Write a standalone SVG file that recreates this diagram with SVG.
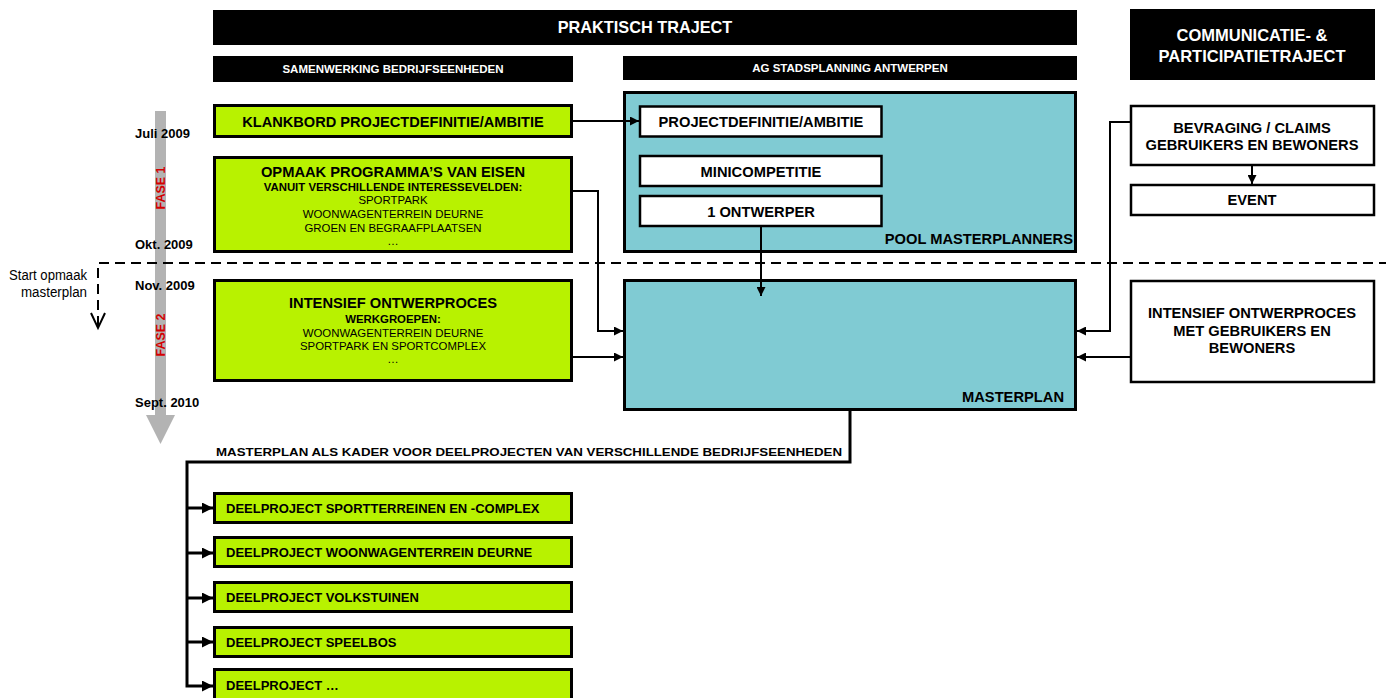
<svg xmlns="http://www.w3.org/2000/svg" width="1386" height="698" viewBox="0 0 1386 698">
<defs>
<marker id="ah" viewBox="0 0 10 10" refX="10" refY="5" markerWidth="9" markerHeight="9" markerUnits="userSpaceOnUse" orient="auto"><path d="M0,0 L10,5 L0,10 z" fill="#000"/></marker>
<marker id="ahb" viewBox="0 0 10 10" refX="10" refY="5" markerWidth="11" markerHeight="11" markerUnits="userSpaceOnUse" orient="auto"><path d="M0,0 L10,5 L0,10 z" fill="#000"/></marker>
</defs>
<style>
text{font-family:"Liberation Sans",Arial,sans-serif;}
.hdr{fill:#000;}
.ht{fill:#fff;font-weight:bold;text-anchor:middle;}
.g{fill:#B8F200;stroke:#000;stroke-width:3;}
.tl{fill:#80CBD3;stroke:#000;stroke-width:3;}
.w{fill:#fff;stroke:#000;stroke-width:2.5;}
.b{font-weight:bold;fill:#000;}
.c{text-anchor:middle;}
.n{fill:#000;}
.con{fill:none;stroke:#000;stroke-width:2;}
.conb{fill:none;stroke:#000;stroke-width:3;}
.date{font-weight:bold;font-size:13px;fill:#000;}
.fase{font-weight:bold;font-size:12.5px;fill:#D40000;text-anchor:middle;}
</style>
<rect x="0" y="0" width="1386" height="698" fill="#fff"/>

<g id="header-praktisch"><rect class="hdr" x="213" y="10" width="864" height="35"/><text class="ht" x="645" y="33" font-size="16.3">PRAKTISCH TRAJECT</text></g>
<g id="header-samenwerking"><rect class="hdr" x="213" y="56" width="360" height="26"/><text class="ht" x="393" y="73" font-size="11.5">SAMENWERKING BEDRIJFSEENHEDEN</text></g>
<g id="header-ag"><rect class="hdr" x="623" y="56" width="454" height="24"/><text class="ht" x="850" y="72" font-size="11.5">AG STADSPLANNING ANTWERPEN</text></g>
<g id="header-communicatie"><rect class="hdr" x="1130" y="9" width="245" height="71"/><text class="ht" x="1252" y="41" font-size="16.5">COMMUNICATIE- &amp;</text><text class="ht" x="1252" y="62" font-size="16.5">PARTICIPATIETRAJECT</text></g>

<g id="timeline">
<rect x="155" y="111" width="11" height="305" fill="#B3B3B3"/>
<polygon points="146,415 175,415 160.5,444" fill="#B3B3B3"/>
<text class="date" x="135" y="138">Juli 2009</text>
<text class="date" x="135" y="249">Okt. 2009</text>
<text class="date" x="135" y="290">Nov. 2009</text>
<text class="date" x="135" y="407">Sept. 2010</text>
<text class="fase" transform="translate(164.5,188) rotate(-90)">FASE 1</text>
<text class="fase" transform="translate(164.5,335) rotate(-90)">FASE 2</text>
</g>

<g id="start-masterplan">
<path d="M98,326 V263 H1386" fill="none" stroke="#000" stroke-width="2" stroke-dasharray="10,6"/>
<polyline points="91,313 98,328 105,313" fill="none" stroke="#000" stroke-width="2"/>
<text class="n" x="87" y="280" font-size="14" text-anchor="end" textLength="78" lengthAdjust="spacingAndGlyphs">Start opmaak</text>
<text class="n" x="87" y="297" font-size="14" text-anchor="end" textLength="66" lengthAdjust="spacingAndGlyphs">masterplan</text>
</g>

<g id="klankbord"><rect class="g" x="214.5" y="105.5" width="357" height="31"/><text class="b c" x="393" y="127" font-size="14.6">KLANKBORD PROJECTDEFINITIE/AMBITIE</text></g>
<g id="opmaak"><rect class="g" x="214.5" y="157.5" width="357" height="94"/>
<text class="b c" x="393" y="177" font-size="14.7">OPMAAK PROGRAMMA’S VAN EISEN</text>
<text class="b c" x="393" y="191" font-size="11.4">VANUIT VERSCHILLENDE INTERESSEVELDEN:</text>
<text class="n c" x="393" y="204" font-size="11.4">SPORTPARK</text>
<text class="n c" x="393" y="218" font-size="11.4">WOONWAGENTERREIN DEURNE</text>
<text class="n c" x="393" y="232" font-size="11.4">GROEN EN BEGRAAFPLAATSEN</text>
<text class="n c" x="393" y="245" font-size="11.4">…</text>
</g>
<g id="intensief-links"><rect class="g" x="214.5" y="280.5" width="357" height="100"/>
<text class="b c" x="393" y="308" font-size="14.7">INTENSIEF ONTWERPROCES</text>
<text class="b c" x="393" y="323" font-size="11.4">WERKGROEPEN:</text>
<text class="n c" x="393" y="337" font-size="11.4">WOONWAGENTERREIN DEURNE</text>
<text class="n c" x="393" y="350" font-size="11.4">SPORTPARK EN SPORTCOMPLEX</text>
<text class="n c" x="393" y="363" font-size="11.4">…</text>
</g>

<g id="pool"><rect class="tl" x="624.5" y="92.5" width="451" height="159"/><text class="b" x="1073" y="244" font-size="14.7" text-anchor="end">POOL MASTERPLANNERS</text></g>
<g id="projectdefinitie"><rect class="w" x="640" y="106.5" width="241.5" height="30"/><text class="b c" x="761" y="127" font-size="14.7">PROJECTDEFINITIE/AMBITIE</text></g>
<g id="minicompetitie"><rect class="w" x="640" y="156" width="241.5" height="30"/><text class="b c" x="761" y="177" font-size="14.7">MINICOMPETITIE</text></g>
<g id="ontwerper"><rect class="w" x="640" y="196" width="241.5" height="30"/><text class="b c" x="761" y="217" font-size="14.7">1 ONTWERPER</text></g>
<g id="masterplan"><rect class="tl" x="624.5" y="280.5" width="451" height="129"/><text class="b" x="1064" y="402" font-size="14.7" text-anchor="end">MASTERPLAN</text></g>

<g id="bevraging"><rect class="w" x="1131" y="106" width="243" height="59"/><text class="b c" x="1252" y="133" font-size="14.7">BEVRAGING / CLAIMS</text><text class="b c" x="1252" y="150" font-size="14.7">GEBRUIKERS EN BEWONERS</text></g>
<g id="event"><rect class="w" x="1131" y="185" width="243" height="30"/><text class="b c" x="1252" y="205" font-size="14.7">EVENT</text></g>
<g id="intensief-rechts"><rect class="w" x="1131" y="281" width="243" height="101"/><text class="b c" x="1252" y="318" font-size="14.7">INTENSIEF ONTWERPROCES</text><text class="b c" x="1252" y="336" font-size="14.7">MET GEBRUIKERS EN</text><text class="b c" x="1252" y="353" font-size="14.7">BEWONERS</text></g>

<text class="b" x="216" y="456" font-size="11.5" textLength="626" lengthAdjust="spacingAndGlyphs">MASTERPLAN ALS KADER VOOR DEELPROJECTEN VAN VERSCHILLENDE BEDRIJFSEENHEDEN</text>

<g id="deel1"><rect class="g" x="214.5" y="493.5" width="357" height="29"/><text class="b" x="226" y="513" font-size="13">DEELPROJECT SPORTTERREINEN EN -COMPLEX</text></g>
<g id="deel2"><rect class="g" x="214.5" y="537.5" width="357" height="29"/><text class="b" x="226" y="557" font-size="13">DEELPROJECT WOONWAGENTERREIN DEURNE</text></g>
<g id="deel3"><rect class="g" x="214.5" y="582.5" width="357" height="29"/><text class="b" x="226" y="602" font-size="13">DEELPROJECT VOLKSTUINEN</text></g>
<g id="deel4"><rect class="g" x="214.5" y="627.5" width="357" height="29"/><text class="b" x="226" y="647" font-size="13">DEELPROJECT SPEELBOS</text></g>
<g id="deel5"><rect class="g" x="214.5" y="669.5" width="357" height="32"/><text class="b" x="226" y="690" font-size="13">DEELPROJECT …</text></g>

<g id="connectors">
<path class="con" d="M573,121 H639" marker-end="url(#ah)"/>
<path class="con" d="M573,191 H598 V331 H623" marker-end="url(#ah)"/>
<path class="con" d="M573,357 H623" marker-end="url(#ah)"/>
<path class="con" d="M761,227 V296" marker-end="url(#ah)"/>
<path class="con" d="M1130,122 H1110 V331 H1077" marker-end="url(#ah)"/>
<path class="con" d="M1130,357 H1077" marker-end="url(#ah)"/>
<path class="con" d="M1252,166 V184" marker-end="url(#ah)"/>
<path class="conb" d="M850,411 V462 H187 V686 H213" marker-end="url(#ahb)"/>
<path class="conb" d="M187,508 H213" marker-end="url(#ahb)"/>
<path class="conb" d="M187,553 H213" marker-end="url(#ahb)"/>
<path class="conb" d="M187,598 H213" marker-end="url(#ahb)"/>
<path class="conb" d="M187,642 H213" marker-end="url(#ahb)"/>
</g>
</svg>
